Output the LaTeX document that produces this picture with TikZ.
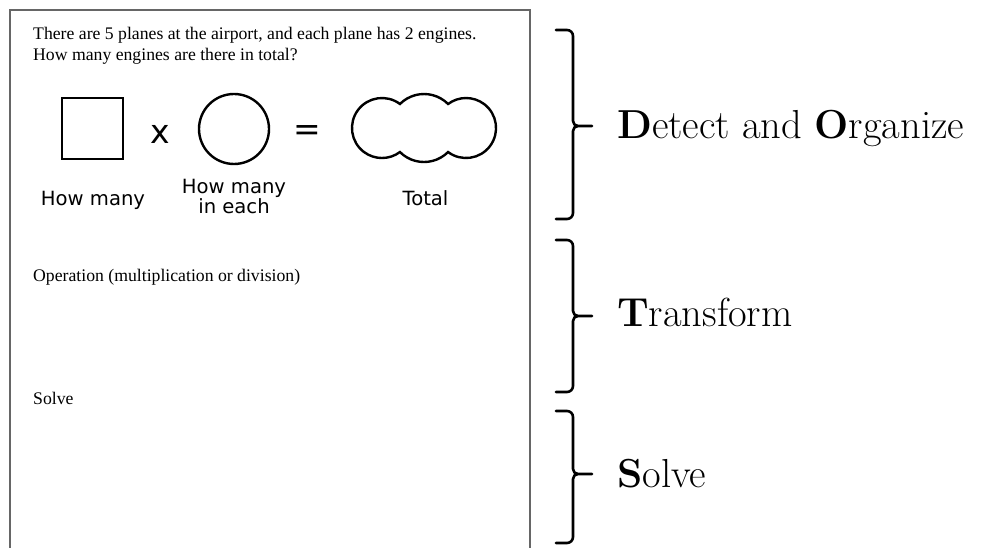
\documentclass[tikz,border=0pt]{standalone}
\usepackage{fontspec}
\newfontfamily\dejavu{DejaVu Sans}
\newfontfamily\libser{Liberation Serif}
\begin{document}
\begin{tikzpicture}[x=1pt,y=1pt,
  shp/.style={draw=black,line width=2.4pt},
  brace/.style={draw=black,line width=2.6pt,line cap=round,line join=round},
  qtext/.style={anchor=base west,inner sep=0pt,font=\libser\fontsize{17.7}{21}\selectfont},
  lab/.style={anchor=base,inner sep=0pt,font=\dejavu\fontsize{19.6}{21}\selectfont},
  op/.style={inner sep=0pt,font=\dejavu\fontsize{33}{36}\selectfont},
  stage/.style={anchor=base west,inner sep=0pt,font=\fontsize{40.5}{46}\selectfont}]
\useasboundingbox (0,0) rectangle (984,548);
\fill[white] (0,0) rectangle (984,548);
% worksheet frame
\draw[draw=black!60,line width=1.3pt] (10,-10) -- (10,538) -- (530,538) -- (530,-10);
% question
\node[qtext] (q1) at (33,508) {There are 5 planes at the airport, and each plane has 2 engines.};
\node[qtext] (q2) at (33,487) {How many engines are there in total?};
% equation shapes
\node[shp,rectangle,minimum size=61pt,inner sep=0pt] (sq) at (92.5,419.5) {};
\node[op] (times) at (160,414) {x};
\node[shp,circle,minimum size=70pt,inner sep=0pt] (circ) at (234,419) {};
\node[op] (eq) at (307,415) {=};
\draw[shp] (399.95,444) arc[start angle=53.2,end angle=306.8,radius=30pt]
  arc[start angle=224.95,end angle=315.05,radius=34pt]
  arc[start angle=-126.8,end angle=126.8,radius=30pt]
  arc[start angle=44.95,end angle=135.05,radius=34pt] -- cycle;
% labels
\node[lab] (l1) at (93,342) {How many};
\node[lab] (l2a) at (234,354) {How many};
\node[lab] (l2b) at (234,334) {in each};
\node[lab] (l3) at (425.5,342) {Total};
% section texts
\node[qtext] (opn) at (33,266) {Operation (multiplication or division)};
\node[qtext] (slv) at (33,143) {Solve};
% braces
\draw[brace] (556,518) -- (567,518) to[out=0,in=90] (573,512) -- (573,427) to[out=-90,in=180] (578,422) -- (592,422)
  (578,422) to[out=180,in=90] (573,417) -- (573,335) to[out=-90,in=0] (567,329) -- (556,329);
\draw[brace] (556,308) -- (567,308) to[out=0,in=90] (573,302) -- (573,237) to[out=-90,in=180] (578,232) -- (592,232)
  (578,232) to[out=180,in=90] (573,227) -- (573,162) to[out=-90,in=0] (567,156) -- (556,156);
\draw[brace] (556,137) -- (567,137) to[out=0,in=90] (573,131) -- (573,79) to[out=-90,in=180] (578,74) -- (592,74)
  (578,74) to[out=180,in=90] (573,69) -- (573,11) to[out=-90,in=0] (567,5) -- (556,5);
% stage names
\node[stage] (s1) at (617,409) {\textbf{D}etect and \textbf{O}rganize};
\node[stage] (s2) at (617,221) {\textbf{T}ransform};
\node[stage] (s3) at (617,60) {\textbf{S}olve};
\end{tikzpicture}
\end{document}
